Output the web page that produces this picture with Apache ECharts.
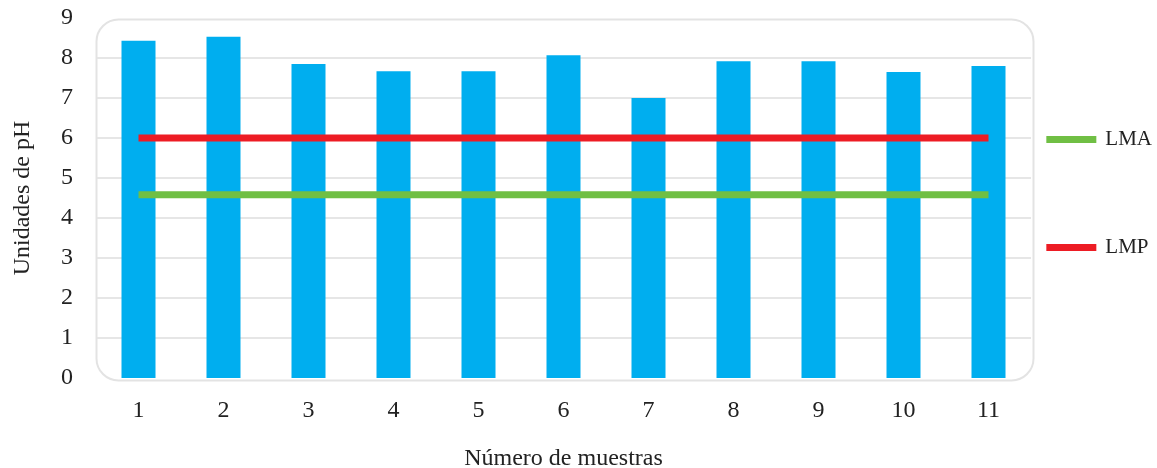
<!DOCTYPE html>
<html>
<head>
<meta charset="utf-8">
<script src="https://cdn.jsdelivr.net/npm/echarts@6/dist/echarts.min.js"></script>
<style>
  html, body { margin: 0; padding: 0; background: #ffffff; }
  #chart { width: 1157px; height: 468px; }
</style>
</head>
<body>
<div id="chart"></div>
<script>
// pH de cada muestra y límites de referencia
const muestras = ['1', '2', '3', '4', '5', '6', '7', '8', '9', '10', '11'];
const valoresPH = [8.43, 8.53, 7.85, 7.67, 7.67, 8.07, 7.0, 7.92, 7.92, 7.65, 7.8];
const limiteLMA = [4.58, 4.58, 4.58, 4.58, 4.58, 4.58, 4.58, 4.58, 4.58, 4.58, 4.58];
const limiteLMP = [6, 6, 6, 6, 6, 6, 6, 6, 6, 6, 6];
const ticksY = [0, 1, 2, 3, 4, 5, 6, 7, 8, 9];

const fuente = '"Liberation Serif", "DejaVu Serif", serif';
const colorTexto = '#222222';

const chart = echarts.init(document.getElementById('chart'), null, { renderer: 'canvas' });

const grid = { left: 96, right: 126, top: 18, bottom: 90, outerBoundsMode: 'none', containLabel: false };

chart.setOption({
  animation: false,
  backgroundColor: '#ffffff',
  textStyle: { fontFamily: fuente },
  grid: grid,
  legend: {
    orient: 'vertical',
    right: 0,
    top: 124,
    itemGap: 87,
    itemWidth: 50,
    itemHeight: 7,
    icon: 'rect',
    data: ['LMA', 'LMP'],
    textStyle: { fontFamily: fuente, fontSize: 21, color: colorTexto, padding: [0, 0, 0, 4] }
  },
  xAxis: {
    type: 'category',
    data: muestras,
    name: 'Número de muestras',
    nameLocation: 'middle',
    nameGap: 69,
    nameTextStyle: { fontFamily: fuente, fontSize: 24, color: colorTexto },
    axisLine: { show: false },
    axisTick: { show: false },
    axisLabel: { fontFamily: fuente, fontSize: 24, color: colorTexto, margin: 21 }
  },
  yAxis: {
    type: 'value',
    min: 0,
    max: 9,
    interval: 1,
    name: 'Unidades de pH',
    nameLocation: 'middle',
    nameGap: 61,
    nameTextStyle: { fontFamily: fuente, fontSize: 24, color: colorTexto },
    axisLine: { show: false },
    axisTick: { show: false },
    axisLabel: {
      fontFamily: fuente, fontSize: 24, color: colorTexto, margin: 23,
      formatter: v => (ticksY.includes(v) ? String(v) : '')
    },
    splitLine: {
      showMinLine: false,
      showMaxLine: false,
      lineStyle: { color: '#e6e6e6', width: 2 }
    }
  },
  graphic: [{
    type: 'rect',
    left: grid.left - 2,
    top: grid.top - 1,
    shape: { width: 1157 - grid.left - grid.right + 2, height: 468 - grid.top - grid.bottom + 1, r: 22 },
    style: { fill: 'none', stroke: '#e3e3e3', lineWidth: 2 },
    z: 100,
    silent: true
  }],
  series: [
    {
      name: 'pH',
      type: 'bar',
      data: valoresPH,
      barWidth: '40%',
      itemStyle: { color: '#00AEEF' },
      z: 2
    },
    {
      name: 'LMA',
      type: 'line',
      data: limiteLMA,
      symbol: 'none',
      lineStyle: { color: '#70BF44', width: 7, cap: 'butt' },
      itemStyle: { color: '#70BF44' },
      z: 3
    },
    {
      name: 'LMP',
      type: 'line',
      data: limiteLMP,
      symbol: 'none',
      lineStyle: { color: '#ED1C24', width: 7, cap: 'butt' },
      itemStyle: { color: '#ED1C24' },
      z: 3
    }
  ]
});
</script>
</body>
</html>
